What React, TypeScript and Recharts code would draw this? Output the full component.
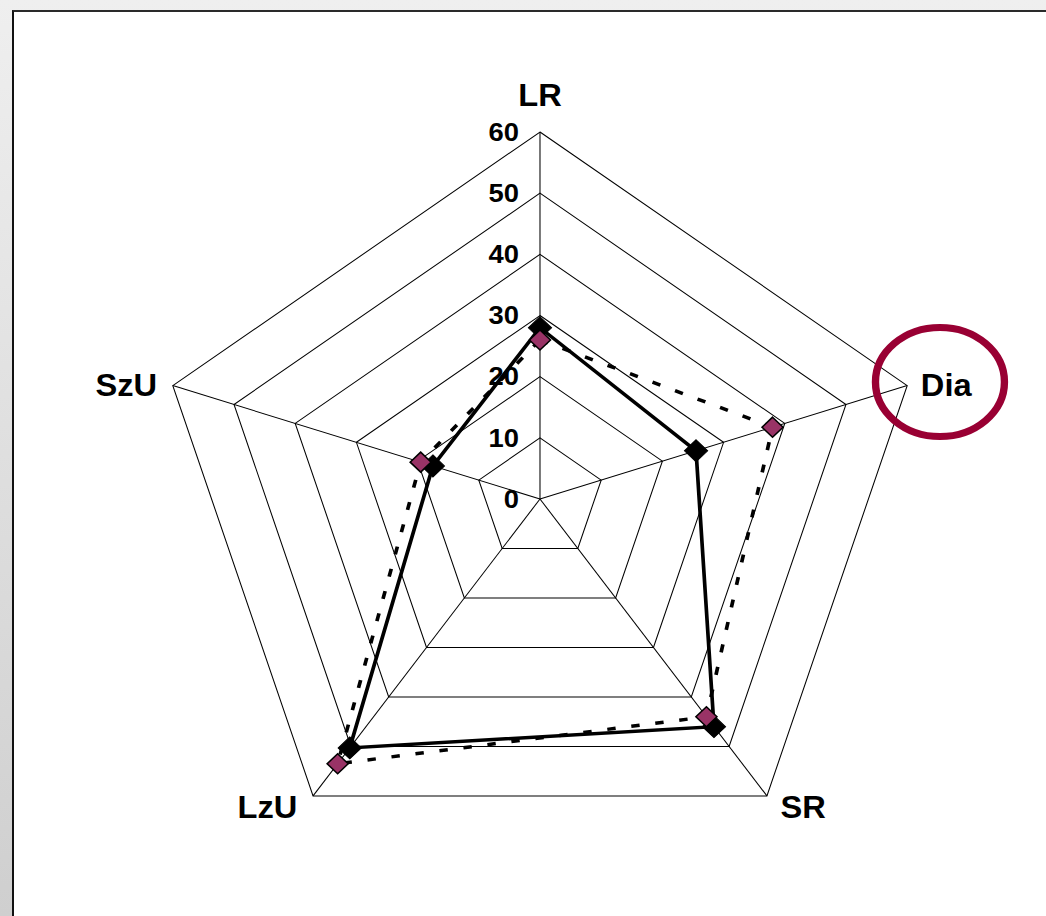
import React from "react";
import { RadarChart, Radar, PolarGrid, PolarAngleAxis, PolarRadiusAxis } from "recharts";

const categories = ["LR", "Dia", "SR", "LzU", "SzU"];
const solidValues = [28, 25.5, 46, 50.3, 17.5];
const dottedValues = [26, 38, 44, 53.5, 19.5];
const radiusTicks = [0, 10, 20, 30, 40, 50, 60];

const data = categories.map((c, i) => ({ axis: c, solid: solidValues[i], dotted: dottedValues[i] }));

// the original picture is stretched a bit horizontally
const STRETCH = 1.052;
const W = 994;
const H = 916;
const CX = 513.3;
const CY = 499;
const R = 367;
const FONT = "'Liberation Sans', Arial, sans-serif";

const AngleTick = (props: any) => {
  const { index, payload } = props;
  const a = ((90 - index * 72) * Math.PI) / 180;
  const vx = CX + R * Math.cos(a);
  const vy = CY - R * Math.sin(a);
  const c = Math.cos(a);
  const s = Math.sin(a);
  let x = vx;
  let anchor: "start" | "middle" | "end" = "middle";
  if (c > 0.1) {
    anchor = "start";
    x = vx + 13;
  } else if (c < -0.1) {
    anchor = "end";
    x = vx - 15;
  }
  let y = vy;
  if (s > 0.5) y = vy - 37;
  else if (s < -0.5) y = vy + 11;
  return (
    <text x={x} y={y} textAnchor={anchor} dominantBaseline="central" fontFamily={FONT} fontWeight="bold" fontSize={31} fill="#000">
      {payload.value}
    </text>
  );
};

const RadiusTick = (props: any) => {
  const { x, y, payload } = props;
  return (
    <text x={x - 20} y={y} textAnchor="end" dominantBaseline="central" fontFamily={FONT} fontWeight="bold" fontSize={26} fill="#000">
      {payload.value}
    </text>
  );
};

const diamond = (size: number, fill: string, stroke: string, sw: number) => (p: any) => {
  const { cx, cy, index } = p;
  if (cx == null || cy == null) return <g key={index} />;
  const pts = `${cx},${cy - size} ${cx + size},${cy} ${cx},${cy + size} ${cx - size},${cy}`;
  return <polygon key={index} points={pts} fill={fill} stroke={stroke} strokeWidth={sw} />;
};

export default function App() {
  return (
    <div
      style={{
        position: "absolute",
        left: 0,
        top: 0,
        width: 1046,
        height: 916,
        overflow: "hidden",
        background: "linear-gradient(180deg, #efefef 0%, #e2e2e2 40%, #cfcfcf 100%)",
      }}
    >
      <div
        style={{
          position: "absolute",
          left: 12,
          top: 10,
          width: 1100,
          height: 1000,
          background: "#fff",
          borderTop: "2px solid #2a2a2a",
          borderLeft: "2px solid #111",
        }}
      />
      <div
        style={{
          position: "absolute",
          left: 0,
          top: 0,
          width: W,
          height: H,
          transform: `scaleX(${STRETCH})`,
          transformOrigin: "0 0",
        }}
      >
        <RadarChart width={W} height={H} data={data} cx={CX} cy={CY} outerRadius={R} margin={{ top: 0, right: 0, bottom: 0, left: 0 }}>
          <PolarGrid gridType="polygon" stroke="#000" strokeWidth={1} />
          <PolarAngleAxis dataKey="axis" tick={<AngleTick />} tickLine={false} axisLine={false} />
          <PolarRadiusAxis angle={90} domain={[0, 60]} ticks={radiusTicks} tick={<RadiusTick />} axisLine={false} tickLine={false} />
          <Radar
            dataKey="solid"
            stroke="#000"
            strokeWidth={3.5}
            fill="none"
            fillOpacity={0}
            dot={diamond(11, "#000", "#000", 1)}
            isAnimationActive={false}
          />
          <Radar
            dataKey="dotted"
            stroke="#000"
            strokeWidth={3.5}
            strokeDasharray="8 15"
            fill="none"
            fillOpacity={0}
            dot={diamond(10, "#993366", "#000", 1.5)}
            isAnimationActive={false}
          />
        </RadarChart>
        <svg width={W} height={H} style={{ position: "absolute", left: 0, top: 0, pointerEvents: "none" }}>
          <ellipse cx={893.5} cy={382} rx={61.3} ry={54.5} fill="none" stroke="#990033" strokeWidth={7} />
        </svg>
      </div>
    </div>
  );
}
